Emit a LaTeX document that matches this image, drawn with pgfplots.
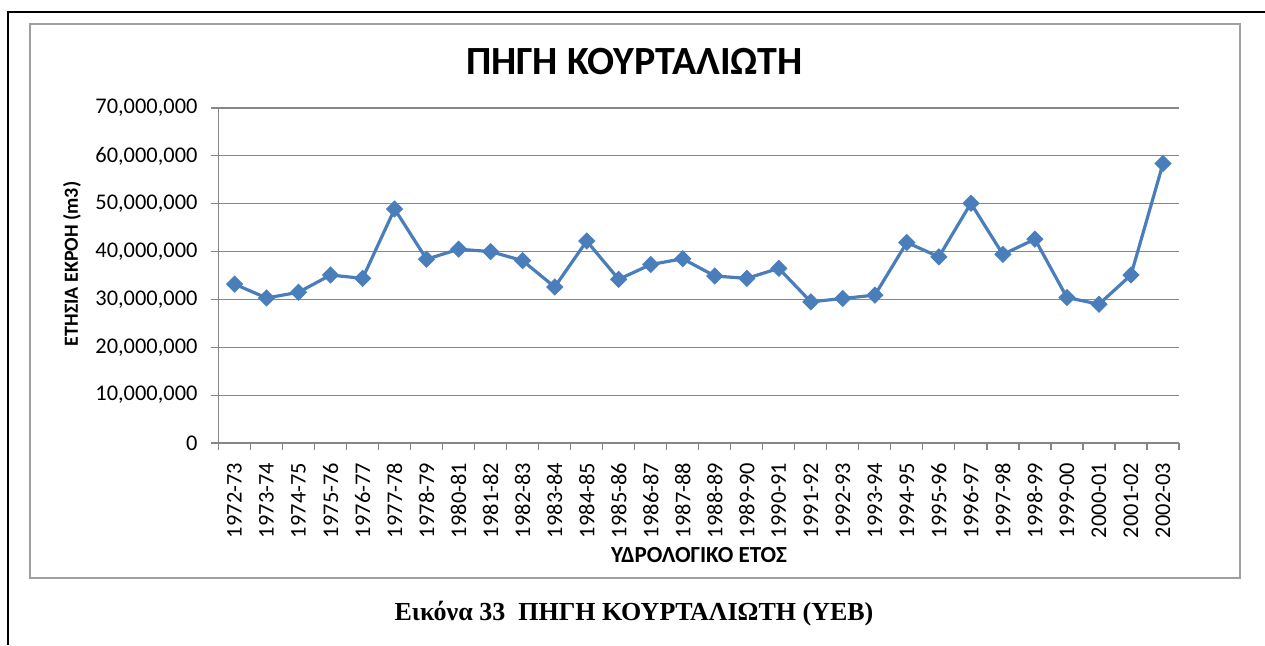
\documentclass[border=0pt]{standalone}
\usepackage{fontspec}
\setmainfont{Carlito}
\newfontfamily\serifcap{Liberation Serif}
\usepackage{pgfplots}
\pgfplotsset{compat=1.18}
\definecolor{exblue}{HTML}{4A7EBB}
\definecolor{gridgray}{HTML}{868686}
\definecolor{framegray}{HTML}{A0A0A0}
\begin{document}
\begin{tikzpicture}
\useasboundingbox (0,0) rectangle (632.5pt,322.5pt);
\draw[line width=1pt] (4pt,0pt) -- (4pt,316.5pt) -- (632.5pt,316.5pt);
\draw[framegray, line width=1pt] (15pt,33.5pt) rectangle (620pt,310.5pt);
\begin{axis}[
  at={(109.25pt,101pt)}, anchor=south west,
  scale only axis, width=480.25pt, height=167.5pt,
  xmin=0.5, xmax=30.5, ymin=0, ymax=70000000,
  axis x line*=bottom, axis y line*=left,
  axis line style={gridgray, line width=0.6pt, -},
  xtick={0.5,1.5,...,30.5}, xticklabels={},
  extra x ticks={1,2,...,30},
  extra x tick labels={1972-73,1973-74,1974-75,1975-76,1976-77,1977-78,1978-79,1980-81,1981-82,1982-83,1983-84,1984-85,1985-86,1986-87,1987-88,1988-89,1989-90,1990-91,1991-92,1992-93,1993-94,1994-95,1995-96,1996-97,1997-98,1998-99,1999-00,2000-01,2001-02,2002-03},
  extra x tick style={major tick length=0pt, xticklabel style={rotate=90, anchor=east, xshift=-6.5pt}},
  ytick={0,10000000,20000000,30000000,40000000,50000000,60000000,70000000},
  yticklabels={0,{10,000,000},{20,000,000},{30,000,000},{40,000,000},{50,000,000},{60,000,000},{70,000,000}},
  yticklabel style={xshift=-3.5pt},
  scaled y ticks=false,
  major tick length=3.5pt, tick align=outside,
  tick style={gridgray, line width=0.6pt},
  ymajorgrids, grid style={gridgray, line width=0.6pt},
  ticklabel style={font=\fontsize{11.2}{13}\selectfont},
  clip=false,
]
\addplot[exblue, line width=1.6pt, mark=square*, mark size=2.8pt, mark options={rotate=45, fill=exblue, draw=exblue, line width=0.5pt}]
coordinates {
(1,33200000) (2,30300000) (3,31500000) (4,35100000) (5,34400000)
(6,48900000) (7,38400000) (8,40500000) (9,40000000) (10,38100000)
(11,32600000) (12,42200000) (13,34200000) (14,37300000) (15,38500000)
(16,34900000) (17,34400000) (18,36500000) (19,29500000) (20,30200000)
(21,30900000) (22,41900000) (23,38900000) (24,50100000) (25,39400000)
(26,42600000) (27,30400000) (28,29000000) (29,35100000) (30,58400000)
};
\end{axis}
\node[font=\bfseries\fontsize{20}{24}\selectfont] at (317.25pt,291.5pt) {ΠΗΓΗ ΚΟΥΡΤΑΛΙΩΤΗ};
\node[font=\bfseries\fontsize{10}{12}\selectfont, rotate=90] at (36pt,190.5pt) {ΕΤΗΣΙΑ ΕΚΡΟΗ (m3)};
\node[font=\bfseries\fontsize{11.5}{13}\selectfont] at (349.5pt,45pt) {ΥΔΡΟΛΟΓΙΚΟ ΕΤΟΣ};
\node[font=\serifcap\bfseries\fontsize{13}{16}\selectfont] at (317pt,15.5pt) {Εικόνα 33\ \ ΠΗΓΗ ΚΟΥΡΤΑΛΙΩΤΗ (ΥΕΒ)};
\end{tikzpicture}
\end{document}
